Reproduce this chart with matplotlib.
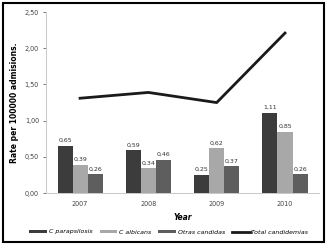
import matplotlib
matplotlib.use("Agg")
import matplotlib.pyplot as plt
from matplotlib.patches import Rectangle
import numpy as np

years = ["2007", "2008", "2009", "2010"]
parapsilosis = [0.65, 0.59, 0.25, 1.11]
albicans = [0.39, 0.34, 0.62, 0.85]
otras = [0.26, 0.46, 0.37, 0.26]
total = [1.31, 1.39, 1.25, 2.21]
yticks = [0.0, 0.5, 1.0, 1.5, 2.0, 2.5]

fig = plt.figure(figsize=(3.28, 2.46), dpi=100)
ax = fig.add_axes([0.140, 0.215, 0.833, 0.736])

x = np.arange(len(years))
w = 0.22
series = [
    (parapsilosis, "#3c3c3c", "C parapsilosis"),
    (albicans, "#a8a8a8", "C albicans"),
    (otras, "#5e5e5e", "Otras candidas"),
]
handles = []
for i, (vals, col, lab) in enumerate(series):
    pos = x + (i - 1) * w
    h = ax.bar(pos, vals, width=w, color=col, label=lab, zorder=2)
    handles.append(h)
    for p, v in zip(pos, vals):
        ax.text(p, v + 0.04, f"{v:.2f}".replace(".", ","), ha="center", va="bottom",
                fontsize=4.5, color="#333333")

line, = ax.plot(x, total, color="#1a1a1a", lw=2.0, label="Total candidemias", zorder=3)
handles.append(line)

ax.set_xlim(-0.5, 3.5)
ax.set_ylim(0, 2.5)
ax.set_yticks(yticks)
ax.set_yticklabels([f"{t:.2f}".replace(".", ",") for t in yticks])
ax.set_xticks(x)
ax.set_xticklabels(years)
ax.tick_params(labelsize=4.7, colors="#444444", length=2, width=0.5, pad=3)
ax.tick_params(axis="x", length=0, pad=6)
for s in ["top", "right"]:
    ax.spines[s].set_visible(False)
for s in ["left", "bottom"]:
    ax.spines[s].set_color("#c8c8c8")
    ax.spines[s].set_linewidth(0.7)

ax.set_ylabel("Rate per 100000 admisions.", fontsize=5.5, fontweight="bold", labelpad=4)
ax.set_xlabel("Year", fontsize=5.5, fontweight="bold", style="italic", labelpad=4)

labels = [h.get_label() for h in handles]
leg = fig.legend(handles, labels, loc="center", bbox_to_anchor=(0.515, 1 - 232 / 246),
                 ncol=4, fontsize=4.5, frameon=False, handlelength=2.8, handleheight=0.45,
                 handletextpad=0.25, columnspacing=1.2)
for t in leg.get_texts():
    t.set_style("italic")

fig.patches.append(Rectangle((3 / 328, 4 / 246), 321 / 328, 239 / 246, transform=fig.transFigure,
                             fill=False, edgecolor="black", linewidth=1.5))

fig.savefig("out.png", dpi=100)
